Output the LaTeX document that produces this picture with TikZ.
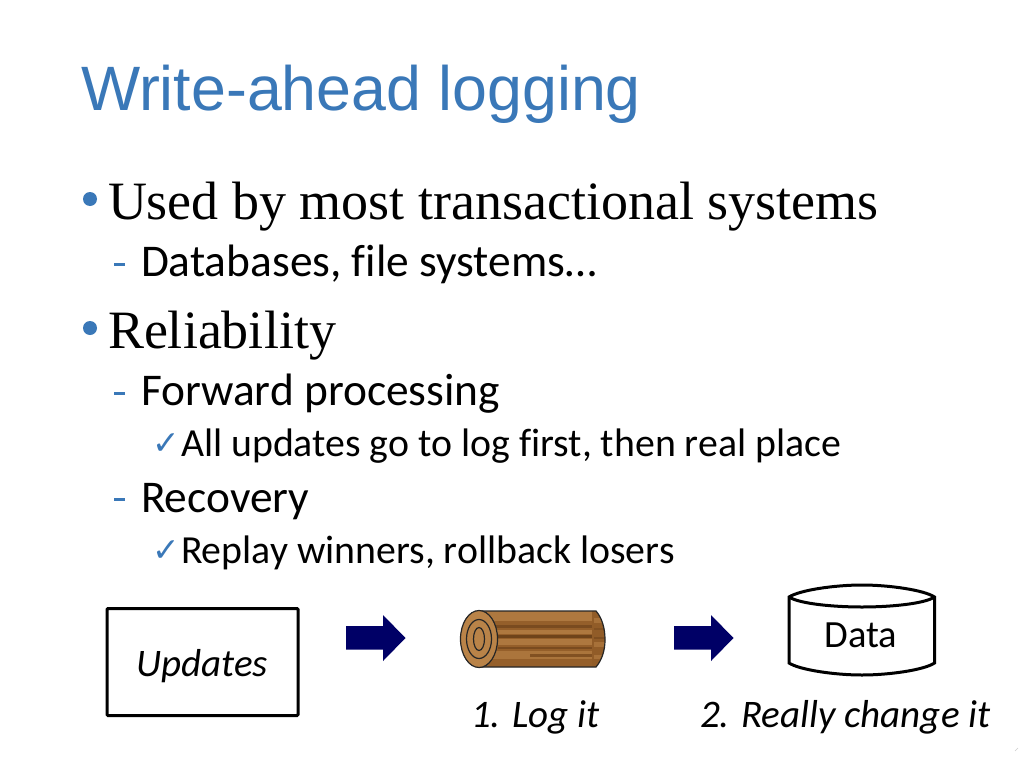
\documentclass[tikz,border=0pt]{standalone}
\usepackage{fontspec}
\setmainfont[Ligatures=CommonOff]{Carlito}
\newfontfamily\titlefont{Liberation Sans}
\newfontfamily\seriffont{Liberation Serif}
\newfontfamily\symfont{DejaVu Sans}
\definecolor{accent}{HTML}{3A78B8}
\definecolor{navy}{HTML}{000066}
\definecolor{woodD}{HTML}{6E431A}
\definecolor{woodM}{HTML}{955F2A}
\definecolor{woodL}{HTML}{B98348}
\tikzset{
  txt/.style={anchor=base west,inner sep=0pt,outer sep=0pt},
  titletxt/.style={txt,text=accent,font=\titlefont\fontsize{62.7}{62.7}\selectfont},
  lvlone/.style={txt,font=\seriffont\fontsize{54}{54}\selectfont},
  lvltwo/.style={txt,font=\fontsize{45.4}{45.4}\selectfont},
  lvlthree/.style={txt,font=\fontsize{39.8}{39.8}\selectfont},
  caption/.style={txt,font=\itshape\fontsize{39}{39}\selectfont},
  dot/.style={circle,fill=accent,inner sep=0pt,minimum size=14pt},
  dashmark/.style={fill=accent,inner sep=0pt,minimum width=11pt,minimum height=3pt},
  tick/.style={txt,text=accent,font=\symfont\fontsize{33}{33}\selectfont},
  boxed/.style={draw=black,line width=3pt,rounded corners=1pt,inner sep=0pt},
  blockarrow/.style={fill=navy,draw=none},
  drum/.style={draw=black,line width=3pt,fill=white},
  logline/.style={draw=black!85,line width=1.2pt}
}
\begin{document}
\begin{tikzpicture}[x=1pt,y=-1pt]
\useasboundingbox[fill=white] (0,0) rectangle (1024,768);
\node[titletxt] (title) at (81,110) {Write-ahead logging};
\node[dot] (b1) at (90,199) {};
\node[lvlone] (t1) at (108,219) {Used by most transactional systems};
\node[dashmark] (d1) at (119,264) {};
\node[lvltwo] (t2) at (141,276) {Databases, file systems…};
\node[dot] (b2) at (90,328) {};
\node[lvlone] (t3) at (108,348) {Reliability};
\node[dashmark] (d2) at (119,393) {};
\node[lvltwo] (t4) at (141,405) {Forward processing};
\node[tick] (c1) at (152,454) {✓};
\node[lvlthree] (t5) at (181,456) {All updates go to log first, then real place};
\node[dashmark] (d3) at (119,499) {};
\node[lvltwo] (t6) at (141,512) {Recovery};
\node[tick] (c2) at (152,561) {✓};
\node[lvlthree] (t7) at (181,563) {Replay winners, rollback losers};
% Updates box
\node[boxed,minimum width=191pt,minimum height=107pt] (upd) at (202.5,662) {};
\node[caption,anchor=base] (updt) at (202,676) {Updates};
% arrows
\fill[blockarrow] (346,626) -- (383,626) -- (383,615) -- (405.5,638) -- (383,661) -- (383,649.5) -- (346,649.5) -- cycle;
\fill[blockarrow] (674,626) -- (711,626) -- (711,615) -- (733.5,638) -- (711,661) -- (711,649.5) -- (674,649.5) -- cycle;
% log
\begin{scope}
  \path[clip] (480,611) -- (596,611) .. controls (602,618) and (605,628) .. (605,640) .. controls (605,650) and (602,660) .. (596,667) -- (480,667) -- cycle;
  \fill[woodM] (470,605) rectangle (610,672);
  \fill[woodL!70!woodM] (480,611) rectangle (610,621);
  \fill[woodL!70!woodM] (480,630) rectangle (610,634);
  \fill[woodL!70!woodM] (480,639) rectangle (610,645);
  \fill[woodL!60!woodM] (480,651) rectangle (610,659);
  \fill[woodD!70!woodM] (480,625) rectangle (610,628);
  \fill[woodD] (498,635) rectangle (610,638);
  \fill[woodD!70!woodM] (498,646.5) rectangle (610,649);
  \fill[woodD!50!woodM] (530,654) rectangle (610,657);
  \fill[woodM!90!woodD] (592,611) rectangle (610,667);
  \fill[woodL!50!woodM] (594,618) rectangle (610,623);
  \fill[woodD!50!woodM] (594,628) rectangle (610,630);
  \fill[woodD!60!woodM] (594,637) rectangle (610,639);
  \fill[woodL!50!woodM] (594,642) rectangle (610,647);
  \fill[woodL!50!woodM] (594,655) rectangle (610,659);
\end{scope}
\draw[logline] (480,611) -- (596,611) .. controls (602,618) and (605,628) .. (605,640) .. controls (605,650) and (602,660) .. (596,667) -- (480,667);
\fill[woodL,logline] (479,639) ellipse [x radius=18.5pt,y radius=28.5pt];
\draw[logline] (479,639) ellipse [x radius=12.5pt,y radius=19.5pt];
\draw[logline] (479,639) ellipse [x radius=5.5pt,y radius=11.5pt];
\node[caption] (cap1) at (471,727) {1. Log it};
% data drum
\path[drum] (789,597) -- (789,663) .. controls (800,670) and (835,675) .. (862,675) .. controls (889,675) and (924,670) .. (934.5,663) -- (934.5,597) .. controls (924,590) and (889,585) .. (862,585) .. controls (835,585) and (800,590) .. (789,597) -- cycle;
\draw[drum,fill=none] (789,597) .. controls (800,604) and (835,607) .. (862,607) .. controls (889,607) and (924,604) .. (934.5,597);
\node[txt,anchor=base,font=\fontsize{38.5}{38.5}\selectfont] (data) at (861,647) {Data};
\node[caption] (cap2) at (700,727) {2. Really change it};
\draw[black!20,line width=.6pt] (1015,751) -- (1018,748);
\end{tikzpicture}
\end{document}
